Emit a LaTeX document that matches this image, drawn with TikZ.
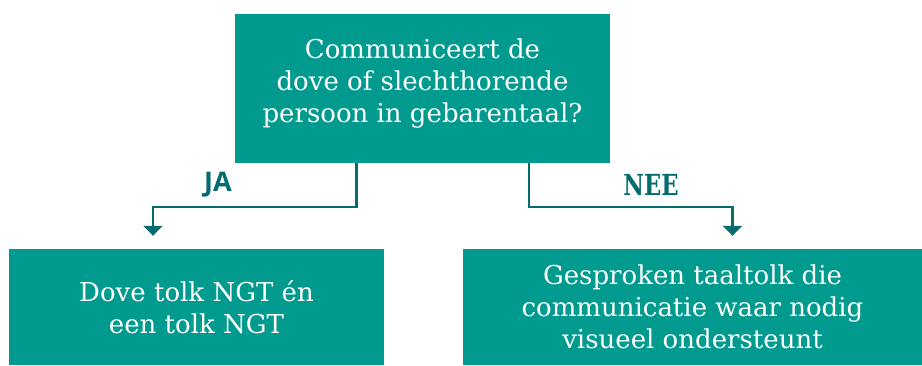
\documentclass[tikz,border=0pt]{standalone}
\usepackage{fontspec}
\usepackage{xcolor}
\usepackage{tikz}
\usetikzlibrary{arrows.meta}
\newfontfamily\slabfont{DejaVu Serif}
\newfontfamily\labelfont{Open Sans}
\definecolor{boxteal}{HTML}{009A8F}
\definecolor{lineteal}{HTML}{036C6F}

\begin{document}
\begin{tikzpicture}[
    x=1pt, y=-1pt,
    box/.style={rectangle, fill=boxteal, text=white, align=center, inner sep=0pt, font=\slabfont\fontsize{26}{32}\selectfont},
    arr/.style={-{Triangle[width=19pt, length=10pt]}, line width=2.2pt, draw=lineteal},
    answer/.style={text=lineteal},
]
\useasboundingbox (0,0) rectangle (922,365);

\node[box, minimum width=375pt, minimum height=149pt] (question) at (422.5, 88.5) {Communiceert de\\dove of slechthorende\\persoon in gebarentaal?\\[-16pt]};
\node[box, minimum width=375pt, minimum height=116pt] (yes) at (196.5, 307) {Dove tolk NGT én\\een tolk NGT};
\node[box, minimum width=459pt, minimum height=116pt] (no) at (692.5, 307) {Gesproken taaltolk die\\communicatie waar nodig\\visueel ondersteunt};

\draw[arr] ([xshift=-66pt]question.south) -- ++(0,44) -| ([xshift=-43.5pt, yshift=13pt]yes.north);
\draw[arr] ([xshift=106.5pt]question.south) -- ++(0,44) -| ([xshift=40pt, yshift=13pt]no.north);

\node[answer, font=\labelfont\bfseries\fontsize{27}{30}\selectfont] (ja) at (218, 185) {JA};
\node[answer, font=\slabfont\bfseries\fontsize{29}{32}\selectfont] (nee) at (651, 185) {\scalebox{0.78}[1]{NEE}};

\end{tikzpicture}
\end{document}
